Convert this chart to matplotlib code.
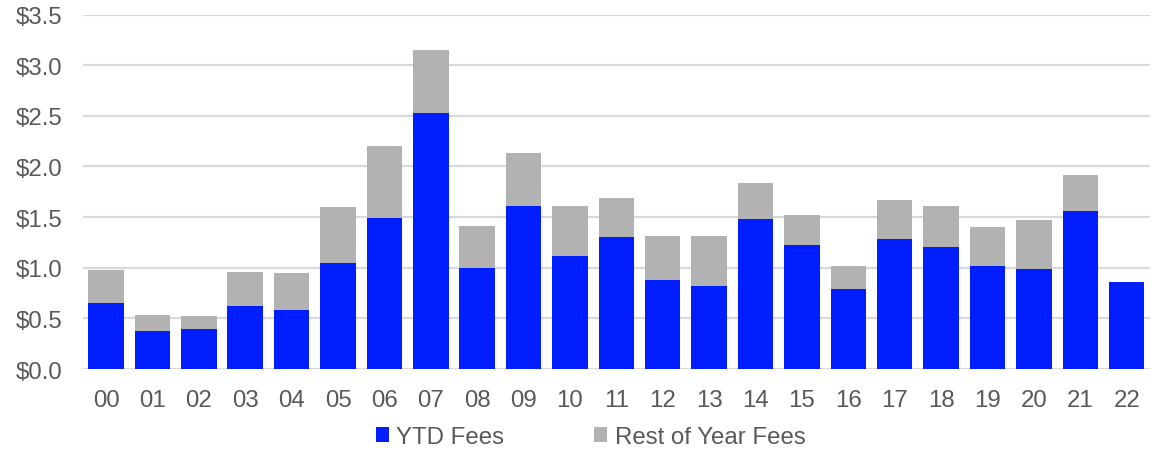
import matplotlib
matplotlib.use("Agg")
import matplotlib.pyplot as plt
import numpy as np

years = ["00", "01", "02", "03", "04", "05", "06", "07", "08", "09", "10", "11",
         "12", "13", "14", "15", "16", "17", "18", "19", "20", "21", "22"]
ytd_fees = [0.65, 0.38, 0.395, 0.625, 0.58, 1.05, 1.495, 2.53, 1.00, 1.605, 1.115, 1.305,
            0.88, 0.815, 1.485, 1.22, 0.79, 1.28, 1.20, 1.02, 0.985, 1.56, 0.855]
total_fees = [0.98, 0.535, 0.52, 0.96, 0.95, 1.60, 2.205, 3.15, 1.415, 2.135, 1.61, 1.69,
              1.315, 1.31, 1.835, 1.52, 1.015, 1.665, 1.61, 1.40, 1.47, 1.915, 0.855]
rest_fees = [t - y for t, y in zip(total_fees, ytd_fees)]
y_ticks = [0.0, 0.5, 1.0, 1.5, 2.0, 2.5, 3.0, 3.5]

plt.rcParams["font.family"] = ["Liberation Sans", "DejaVu Sans"]
text_color = "#595959"
blue = "#001EFF"
gray = "#B2B2B2"
grid_color = "#D9D9D9"
fs = 17.3

fig = plt.figure(figsize=(11.51, 4.52), dpi=100)
ax = fig.add_axes([0.072, 0.1814, 0.927, 0.7843])

x = np.arange(len(years))
w = 0.765
ax.bar(x, ytd_fees, width=w, color=blue, label="YTD Fees", zorder=3)
ax.bar(x, rest_fees, width=w, bottom=ytd_fees, color=gray,
       label="Rest of Year Fees", zorder=3)

ax.set_xlim(-0.5, len(years) - 0.5)
ax.set_ylim(0, 3.5)
ax.set_yticks(y_ticks)
ax.set_yticklabels([f"${v:.1f}" for v in y_ticks])
ax.set_xticks(x)
ax.set_xticklabels(years)

for v in y_ticks:
    ax.axhline(v, color=grid_color, linewidth=1.6, zorder=1)

for s in ax.spines.values():
    s.set_visible(False)

ax.tick_params(axis="y", length=0, pad=15, labelsize=fs, labelcolor=text_color)
ax.tick_params(axis="x", length=0, pad=14.5, labelsize=fs, labelcolor=text_color)

handles, labels = ax.get_legend_handles_labels()
fig.legend(handles, labels, loc="center", bbox_to_anchor=(0.513, 0.031), ncol=2,
           frameon=False, fontsize=fs, labelcolor=text_color,
           handlelength=0.55, handleheight=0.55, handletextpad=0.3,
           columnspacing=3.75, borderpad=0)

fig.savefig("out.png", dpi=100)
